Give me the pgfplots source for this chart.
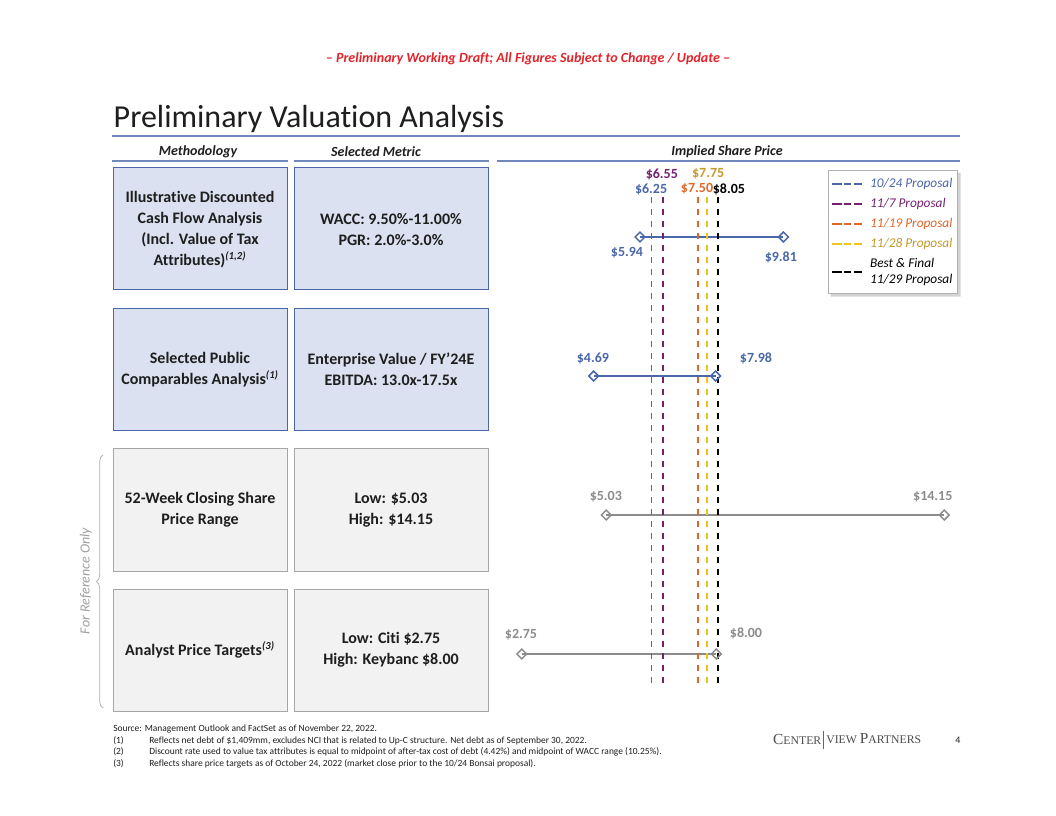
\documentclass[border=0pt]{standalone}
\usepackage{pgfplots}
\pgfplotsset{compat=1.18}
\usepackage{fontspec}
\setmainfont{Carlito}[Ligatures={TeX,NoCommon}]
\newfontfamily\logofont{Liberation Serif}
\usetikzlibrary{decorations.pathreplacing}

\definecolor{cvblue}{HTML}{4A67A9}
\definecolor{cvpurple}{HTML}{74206F}
\definecolor{cvorange}{HTML}{E0652A}
\definecolor{cvyellow}{HTML}{F2C418}
\definecolor{cvgold}{HTML}{C49A2E}
\definecolor{cvgray}{HTML}{8C8C8C}
\definecolor{cvred}{HTML}{E2232A}
\definecolor{rulecol}{HTML}{7088BC}
\definecolor{boxblue}{HTML}{DCE1F1}
\definecolor{boxgray}{HTML}{F2F2F3}
\definecolor{ink}{HTML}{1E1E1E}

\tikzset{
  valrange/.style={line width=1.2pt, mark=square, mark size=2.6pt,
    mark options={rotate=45, fill=white, solid, line width=1.1pt}},
  offer/.style={line width=1.4pt, dash pattern=on 5pt off 4pt},
  lbl/.style={font=\bfseries\fontsize{10.5}{12}\selectfont},
  boxtext/.style={align=center, text=ink, font=\bfseries\fontsize{12}{15.75}\selectfont},
  fn/.style={anchor=west, text=ink, font=\fontsize{7.1}{8}\selectfont, inner sep=0pt},
}

\begin{document}
\begin{tikzpicture}
% page furniture, in pixel units of the 1056x816 page (y downwards)
\begin{scope}[x=0.75pt,y=-0.75pt]
\path (0,0) rectangle (1056,816);
\node[text=cvred, font=\bfseries\itshape\fontsize{10.5}{12}\selectfont] at (528,59)
  {– Preliminary Working Draft; All Figures Subject to Change / Update –};
\node[anchor=west, text=ink, font=\fontsize{24}{28}\selectfont] at (109,119) {Preliminary Valuation Analysis};
\draw[rulecol, line width=0.9pt] (112,136) -- (960,136);

\node[font=\bfseries\itshape\fontsize{10.5}{12}\selectfont, text=ink] at (198,152) {Methodology};
\node[font=\bfseries\itshape\fontsize{10.5}{12}\selectfont, text=ink] at (376,152) {Selected Metric};
\node[font=\bfseries\itshape\fontsize{10.5}{12}\selectfont, text=ink] at (727,152) {Implied Share Price};
\draw[rulecol, line width=1pt] (112,161) -- (288,161);
\draw[rulecol, line width=1pt] (294,161) -- (489,161);
\draw[rulecol, line width=1pt] (497,161) -- (960,161);

% boxes
\draw[fill=boxblue, draw=cvblue, line width=0.5pt] (113,167) rectangle (287,289);
\draw[fill=boxblue, draw=cvblue, line width=0.5pt] (294,167) rectangle (488,289);
\draw[fill=boxblue, draw=cvblue, line width=0.5pt] (113,308) rectangle (287,430);
\draw[fill=boxblue, draw=cvblue, line width=0.5pt] (294,308) rectangle (488,430);
\draw[fill=boxgray, draw=gray!70, line width=0.5pt] (113,448) rectangle (287,571);
\draw[fill=boxgray, draw=gray!70, line width=0.5pt] (294,448) rectangle (488,571);
\draw[fill=boxgray, draw=gray!70, line width=0.5pt] (113,589) rectangle (287,711);
\draw[fill=boxgray, draw=gray!70, line width=0.5pt] (294,589) rectangle (488,711);

\node[boxtext] at (200,229.5) {Illustrative Discounted\\Cash Flow Analysis\\(Incl. Value of Tax\\Attributes)\textsuperscript{\itshape(1,2)}};
\node[boxtext] at (391,229.5) {WACC: 9.50\%-11.00\%\\PGR: 2.0\%-3.0\%};
\node[boxtext] at (200,369.5) {Selected Public\\Comparables Analysis\textsuperscript{\itshape(1)}};
\node[boxtext] at (391,369.5) {Enterprise Value / FY'24E\\EBITDA: 13.0x-17.5x};
\node[boxtext] at (200,510) {52-Week Closing Share\\Price Range};
\node[boxtext] at (391,510) {Low: \$5.03\\High: \$14.15};
\node[boxtext] at (200,650) {Analyst Price Targets\textsuperscript{\itshape(3)}};
\node[boxtext] at (391,650) {Low: Citi \$2.75\\High: Keybanc \$8.00};

% bracket
\draw[gray!60, line width=0.6pt, decorate, decoration={brace, amplitude=5pt}] (103,708) -- (103,455);
\node[rotate=90, text=gray!75, font=\itshape\fontsize{10.5}{12}\selectfont] at (86,581) {For Reference Only};

% footnotes
\node[fn] at (113,729) {Source: Management Outlook and FactSet as of November 22, 2022.};
\node[fn] at (113,741) {(1)};
\node[fn] at (149,741) {Reflects net debt of \$1,409mm, excludes NCI that is related to Up-C structure. Net debt as of September 30, 2022.};
\node[fn] at (113,752) {(2)};
\node[fn] at (149,752) {Discount rate used to value tax attributes is equal to midpoint of after-tax cost of debt (4.42\%) and midpoint of WACC range (10.25\%).};
\node[fn] at (113,764) {(3)};
\node[fn] at (149,764) {Reflects share price targets as of October 24, 2022 (market close prior to the 10/24 Bonsai proposal).};

% logo and page number
\node[anchor=east, text=ink!80, inner sep=0pt, font=\logofont] at (821.5,739)
  {{\fontsize{11.5}{12}\selectfont C}{\fontsize{8.8}{12}\selectfont ENTER}};
\draw[cvblue, line width=0.8pt] (823.5,731) -- (823.5,749);
\node[anchor=west, text=ink!80, inner sep=0pt, font=\logofont] at (826,739)
  {{\fontsize{8.8}{12}\selectfont VIEW }{\fontsize{11.5}{12}\selectfont P}{\fontsize{8.8}{12}\selectfont ARTNERS}};
\node[text=ink, font=\fontsize{7.5}{9}\selectfont] at (958,740) {4};
\end{scope}

\begin{axis}[
  at={(370.43pt,-542.63pt)}, anchor=south west,
  scale only axis, width=350.3pt, height=417pt,
  xmin=2, xmax=14.6, ymin=0.5, ymax=4.5,
  hide axis, clip=false,
  legend cell align=left,
  legend image code/.code={
    \path (0pt,0pt) -- (26pt,0pt);
    \draw[#1, solid, line width=1pt] (3pt,0pt) -- (7.5pt,0pt) (10pt,0pt) -- (14.5pt,0pt) (17pt,0pt) -- (21.5pt,0pt);},
  legend style={name=leg, at={(0.9936,0.9955)}, anchor=north east, draw=gray!60, fill=white,
    font=\itshape\fontsize{10}{12}\selectfont, cells={align=left},
    row sep=2.6pt, inner xsep=2pt, inner ysep=4pt},
]
% valuation ranges
\addplot[valrange, cvblue, forget plot] coordinates {(5.94,4) (9.81,4)};
\addplot[valrange, cvblue, forget plot] coordinates {(4.69,3) (7.98,3)};
\addplot[valrange, cvgray, forget plot] coordinates {(5.03,2) (14.15,2)};
\addplot[valrange, cvgray, forget plot] coordinates {(2.75,1) (8.00,1)};

% proposals
\addplot[offer, cvblue] coordinates {(6.25,0.79) (6.25,4.295)};
\addlegendentry{\textcolor{cvblue}{10/24 Proposal}}
\addplot[offer, cvpurple] coordinates {(6.55,0.79) (6.55,4.295)};
\addlegendentry{\textcolor{cvpurple}{11/7 Proposal}}
\addplot[offer, cvorange] coordinates {(7.50,0.79) (7.50,4.295)};
\addlegendentry{\textcolor{cvorange}{11/19 Proposal}}
\addplot[offer, cvyellow] coordinates {(7.75,0.79) (7.75,4.295)};
\addlegendentry{\textcolor{cvgold}{11/28 Proposal}}
\addplot[offer, black] coordinates {(8.05,0.79) (8.05,4.295)};
\addlegendentry{Best \& Final\\11/29 Proposal}

% value labels
\node[lbl, text=cvpurple] at (axis cs:6.53,4.453) {\$6.55};
\node[lbl, text=cvgold] at (axis cs:7.78,4.453) {\$7.75};
\node[lbl, text=cvblue] at (axis cs:6.24,4.345) {\$6.25};
\node[lbl, text=cvorange] at (axis cs:7.48,4.345) {\$7.50};
\node[lbl, text=black] at (axis cs:8.34,4.345) {\$8.05};
\node[lbl, text=cvblue] at (axis cs:5.59,3.885) {\$5.94};
\node[lbl, text=cvblue] at (axis cs:9.74,3.85) {\$9.81};
\node[lbl, text=cvblue] at (axis cs:4.67,3.129) {\$4.69};
\node[lbl, text=cvblue] at (axis cs:9.07,3.129) {\$7.98};
\node[lbl, text=cvgray] at (axis cs:5.02,2.129) {\$5.03};
\node[lbl, text=cvgray] at (axis cs:13.84,2.129) {\$14.15};
\node[lbl, text=cvgray] at (axis cs:2.73,1.137) {\$2.75};
\node[lbl, text=cvgray] at (axis cs:8.80,1.151) {\$8.00};
\end{axis}
% legend shadow (right and bottom strips)
\fill[gray, opacity=0.35]
  ([yshift=-2pt]leg.north east) -- ++(2pt,0pt) -- ([xshift=2pt,yshift=-2pt]leg.south east)
  -- ([xshift=2pt,yshift=-2pt]leg.south west) -- ([xshift=2pt]leg.south west) -- (leg.south east) -- cycle;
\end{tikzpicture}
\end{document}
